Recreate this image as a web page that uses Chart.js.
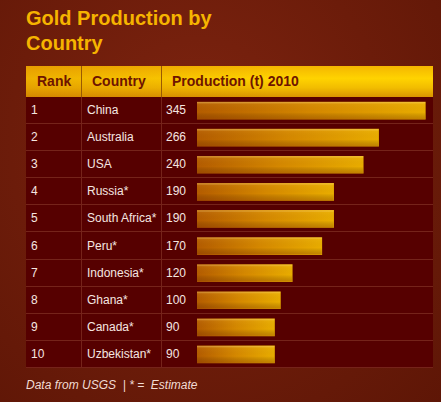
<!DOCTYPE html>
<html>
<head>
<meta charset="utf-8">
<script src="https://cdn.jsdelivr.net/npm/chart.js@4.4.1/dist/chart.umd.min.js"></script>
<style>
  html, body { margin:0; padding:0; }
  body {
    width:441px; height:402px; overflow:hidden; position:relative;
    font-family:"Liberation Sans", Arial, sans-serif;
    background: radial-gradient(ellipse at 45% 35%, #7e2410 0%, #6c1c0a 55%, #5e1606 100%);
  }
  #title {
    position:absolute; left:26px; top:6px;
    font-size:20px; font-weight:bold; line-height:25px; color:#f6b400;
  }
  #table { position:absolute; left:26px; top:66px; width:407px; height:302px; }
  #head {
    position:absolute; left:0; top:0; width:407px; height:31px;
    background:
      linear-gradient(to right, rgba(205,110,0,0.35), rgba(205,110,0,0) 60%),
      linear-gradient(to bottom, #f4b600 0%, #ffd300 40%, #f2bd00 70%, #d99400 100%);
  }
  .hcell {
    position:absolute; top:0; height:31px; line-height:31px;
    font-size:14px; font-weight:bold; color:#6e1400;
  }
  .hsep { position:absolute; top:0; width:1px; height:31px; background:#9a5a00; }
  #body { position:absolute; left:0; top:31px; width:407px; height:271px; background:#560000; }
  .row { position:absolute; left:0; width:407px; height:27px; border-bottom:1px solid #75231a; box-sizing:border-box; }
  .cell { position:absolute; top:0; height:27px; line-height:27px; font-size:12px; color:#f5e6e0; }
  .vsep { position:absolute; top:0; width:1px; height:271px; background:#75231a; }
  #bars { position:absolute; left:197px; top:97px; }
  #note {
    position:absolute; left:26px; top:378px;
    font-size:12px; font-style:italic; color:#f2dcd4;
  }
</style>
</head>
<body>
<div id="title">Gold Production by<br>Country</div>
<div id="table">
  <div id="head">
    <div class="hcell" style="left:11px">Rank</div>
    <div class="hsep" style="left:55px"></div>
    <div class="hcell" style="left:66px">Country</div>
    <div class="hsep" style="left:135px"></div>
    <div class="hcell" style="left:146px">Production (t) 2010</div>
  </div>
  <div id="body"></div>
</div>
<canvas id="bars" width="236" height="271"></canvas>
<div id="note">Data from USGS &nbsp;| * = &nbsp;Estimate</div>

<script>
// data
const ranks = [1, 2, 3, 4, 5, 6, 7, 8, 9, 10];
const countries = ["China", "Australia", "USA", "Russia*", "South Africa*", "Peru*", "Indonesia*", "Ghana*", "Canada*", "Uzbekistan*"];
const production = [345, 266, 240, 190, 190, 170, 120, 100, 90, 90];

// table rows (text)
const body = document.getElementById("body");
for (let i = 0; i < ranks.length; i++) {
  const row = document.createElement("div");
  row.className = "row";
  row.style.top = (i * 27.1) + "px";
  row.innerHTML =
    '<div class="cell" style="left:5px">' + ranks[i] + '</div>' +
    '<div class="cell" style="left:61px">' + countries[i] + '</div>' +
    '<div class="cell" style="left:140px">' + production[i] + '</div>';
  body.appendChild(row);
}
[55, 135].forEach(x => {
  const s = document.createElement("div");
  s.className = "vsep";
  s.style.left = x + "px";
  body.appendChild(s);
});

// bars
const BASE = -41;

function barFill(ctx) {
  const chart = ctx.chart;
  const xs = chart.scales.x;
  if (!xs || ctx.raw === undefined) return "#cc7a00";
  const x0 = xs.getPixelForValue(BASE);
  const x1 = xs.getPixelForValue(ctx.raw);
  if (!isFinite(x0) || !isFinite(x1) || x1 <= x0) return "#cc7a00";
  const g = chart.ctx.createLinearGradient(x0, 0, x1, 0);
  g.addColorStop(0, "#b45c00");
  g.addColorStop(0.5, "#d58800");
  g.addColorStop(1, "#e9ad00");
  return g;
}

// soft vertical shine on each bar
const shine = {
  id: "shine",
  afterDatasetsDraw(chart) {
    const c = chart.ctx;
    chart.getDatasetMeta(0).data.forEach(el => {
      const p = el.getProps(["x", "y", "base", "height"], true);
      if (![p.x, p.y, p.base, p.height].every(isFinite)) return;
      const top = p.y - p.height / 2;
      const g = c.createLinearGradient(0, top, 0, top + p.height);
      g.addColorStop(0, "rgba(255,225,140,0.45)");
      g.addColorStop(0.12, "rgba(255,225,140,0.05)");
      g.addColorStop(0.6, "rgba(0,0,0,0)");
      g.addColorStop(1, "rgba(110,30,0,0.3)");
      c.fillStyle = g;
      c.fillRect(p.base, top, p.x - p.base, p.height);
    });
  }
};

const chart = new Chart(document.getElementById("bars"), {
  type: "bar",
  data: {
    labels: countries,
    datasets: [{
      data: production,
      base: BASE,
      backgroundColor: barFill,
      borderWidth: 0,
      barThickness: 17
    }]
  },
  options: {
    indexAxis: "y",
    responsive: false,
    animation: false,
    events: [],
    layout: { padding: 0 },
    plugins: { legend: { display: false }, tooltip: { enabled: false } },
    scales: {
      x: { display: false, min: BASE, max: 358 },
      y: { display: false }
    }
  },
  plugins: [shine]
});
// second pass so the gradients see the finished scale
chart.update();
</script>
</body>
</html>
